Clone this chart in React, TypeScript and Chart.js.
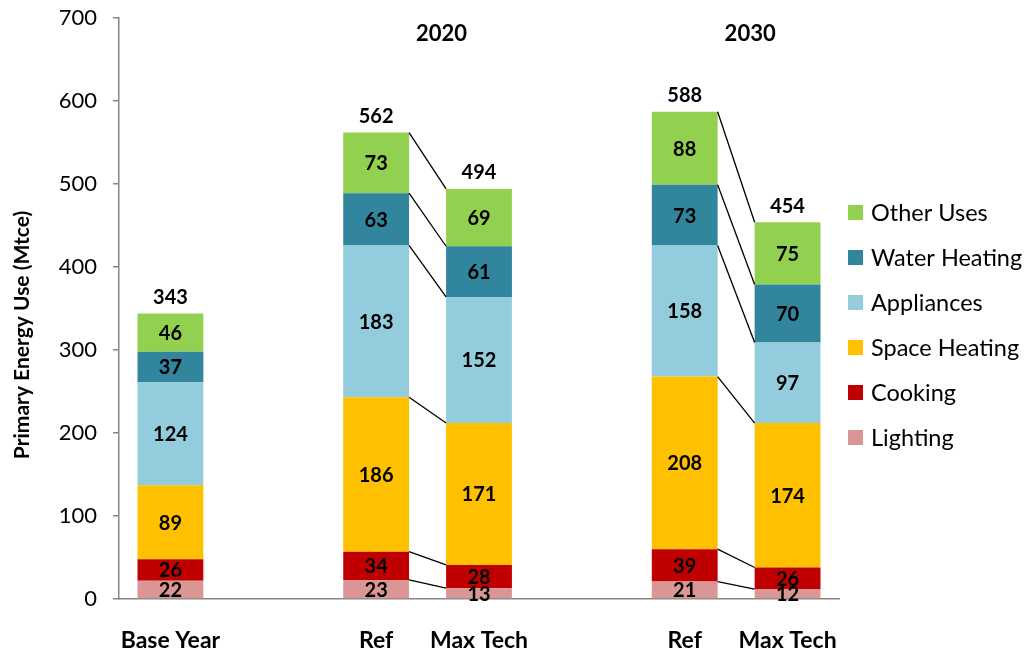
import React, { useEffect, useRef } from "react";
import { Chart, registerables } from "chart.js";

Chart.register(...registerables);

const categories = ["Base Year", "", "Ref", "Max Tech", "", "Ref", "Max Tech"];
const lighting = [22, null, 23, 13, null, 21, 12];
const cooking = [26, null, 34, 28, null, 39, 26];
const spaceHeating = [89, null, 186, 171, null, 208, 174];
const appliances = [124, null, 183, 152, null, 158, 97];
const waterHeating = [37, null, 63, 61, null, 73, 70];
const otherUses = [46, null, 73, 69, null, 88, 75];
const totals = [343, null, 562, 494, null, 588, 454];
const groupLabels = ["2020", "2030"];
const groupPairs = [[2, 3], [5, 6]];
const yTicks = [0, 100, 200, 300, 400, 500, 600, 700];

const FONT = "Lato, 'Open Sans', sans-serif";

const seriesDefs = [
  { label: "Lighting", data: lighting, color: "#D99694" },
  { label: "Cooking", data: cooking, color: "#C00000" },
  { label: "Space Heating", data: spaceHeating, color: "#FFC000" },
  { label: "Appliances", data: appliances, color: "#93CDDD" },
  { label: "Water Heating", data: waterHeating, color: "#31859C" },
  { label: "Other Uses", data: otherUses, color: "#92D050" },
];

const overlayPlugin = {
  id: "overlay",
  afterDatasetsDraw(chart: any) {
    const ctx = chart.ctx;
    const n = chart.data.datasets.length;
    ctx.save();
    // connector lines
    ctx.strokeStyle = "#000";
    ctx.lineWidth = 1.3;
    for (const [a, b] of groupPairs) {
      for (let i = 0; i < n; i++) {
        const meta = chart.getDatasetMeta(i);
        const ea = meta.data[a];
        const eb = meta.data[b];
        if (!ea || !eb) continue;
        ctx.beginPath();
        ctx.moveTo(ea.x + ea.width / 2, ea.y);
        ctx.lineTo(eb.x - eb.width / 2, eb.y);
        ctx.stroke();
      }
    }
    // segment labels
    ctx.fillStyle = "#000";
    ctx.font = `bold 20px ${FONT}`;
    ctx.textAlign = "center";
    ctx.textBaseline = "middle";
    for (let i = 0; i < n; i++) {
      const meta = chart.getDatasetMeta(i);
      const ds = chart.data.datasets[i];
      meta.data.forEach((el: any, j: number) => {
        const v = ds.data[j];
        if (v == null) return;
        ctx.fillText(String(v), el.x, (el.y + el.base) / 2 + 1);
      });
    }
    // totals
    const topMeta = chart.getDatasetMeta(n - 1);
    ctx.font = `bold 20px ${FONT}`;
    totals.forEach((t, j) => {
      if (t == null) return;
      const el = topMeta.data[j];
      ctx.fillText(String(t), el.x, el.y - 16);
    });
    // group labels
    ctx.font = `bold 22px ${FONT}`;
    const xs = chart.scales.x;
    groupPairs.forEach(([a, b], k) => {
      const cx = (xs.getPixelForValue(a) + xs.getPixelForValue(b)) / 2 + 14;
      ctx.fillText(groupLabels[k], cx, 34);
    });
    // y title
    ctx.save();
    ctx.translate(22, 335);
    ctx.rotate(-Math.PI / 2);
    ctx.font = `bold 21px ${FONT}`;
    ctx.fillText("Primary Energy Use (Mtce)", 0, 0);
    ctx.restore();
    // legend
    ctx.textAlign = "left";
    ctx.font = `23.5px ${FONT}`;
    for (let i = n - 1, r = 0; i >= 0; i--, r++) {
      const y = 212 + r * 45;
      ctx.fillStyle = chart.data.datasets[i].backgroundColor;
      ctx.fillRect(848, y - 7, 15, 15);
      ctx.fillStyle = "#000";
      ctx.fillText(chart.data.datasets[i].label, 871, y + 1);
    }
    ctx.restore();
  },
};

export default function App() {
  const ref = useRef<HTMLCanvasElement>(null);
  useEffect(() => {
    if (!ref.current) return;
    const chart = new Chart(ref.current, {
      type: "bar",
      data: {
        labels: categories,
        datasets: seriesDefs.map((s) => ({
          label: s.label,
          data: s.data as any,
          backgroundColor: s.color,
          borderWidth: 0,
          categoryPercentage: 1,
          barPercentage: 0.64,
        })),
      },
      options: {
        animation: false,
        responsive: false,
        maintainAspectRatio: false,
        layout: { padding: { left: 0, right: 190, top: 18, bottom: 0 } },
        plugins: { legend: { display: false }, tooltip: { enabled: false } },
        scales: {
          x: {
            stacked: true,
            grid: { display: false, drawTicks: false },
            border: { display: true, color: "#868686", width: 1.5 },
            ticks: {
              color: "#000",
              font: { family: FONT, size: 23, weight: "bold" },
              padding: 28,
              autoSkip: false,
              maxRotation: 0,
            },
            afterFit: (s: any) => {
              s.height = 57;
              s.paddingLeft = 0;
              s.paddingRight = 0;
            },
          },
          y: {
            stacked: true,
            min: 0,
            max: 700,
            afterBuildTicks: (s: any) => {
              s.ticks = yTicks.map((v) => ({ value: v }));
            },
            grid: {
              display: true,
              drawOnChartArea: false,
              drawTicks: true,
              tickLength: 6,
              color: "#868686",
              lineWidth: 1.5,
            },
            border: { display: true, color: "#868686", width: 1.5 },
            ticks: {
              color: "#000",
              font: { family: FONT, size: 22 },
              padding: 16,
            },
            afterFit: (s: any) => {
              s.width = 119;
              s.paddingTop = 0;
              s.paddingBottom = 0;
            },
          },
        },
      },
      plugins: [overlayPlugin],
    });
    return () => chart.destroy();
  }, []);
  return (
    <div style={{ position: "fixed", left: 0, top: 0, width: 1029, height: 656, background: "#fff" }}>
      <canvas ref={ref} width={1029} height={656} style={{ display: "block" }} />
    </div>
  );
}
